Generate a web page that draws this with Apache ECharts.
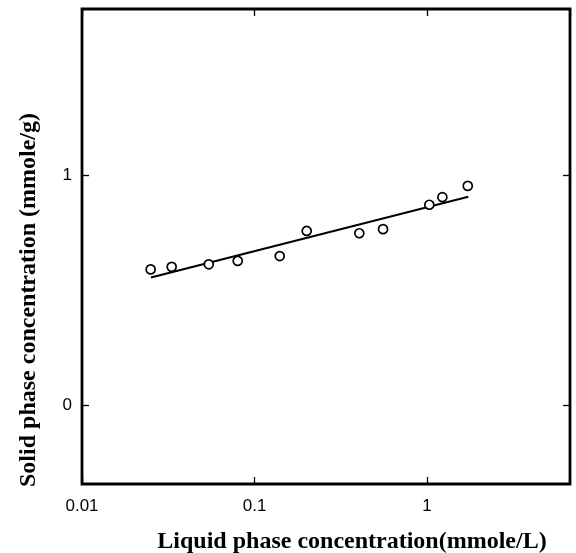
<!DOCTYPE html>
<html>
<head>
<meta charset="utf-8">
<script src="https://cdn.jsdelivr.net/npm/echarts@6/dist/echarts.min.js"></script>
<style>
html,body{margin:0;padding:0;background:#fff;}
#c{width:576px;height:553px;}
</style>
</head>
<body>
<div id="c"></div>
<script>
// Data
var liquidConc = [0.025, 0.0331, 0.0543, 0.0799, 0.140, 0.2007, 0.405, 0.556, 1.031, 1.227, 1.722];
var solidConc  = [0.590, 0.601, 0.612, 0.627, 0.648, 0.757, 0.747, 0.765, 0.871, 0.904, 0.953];
var fitX = [0.0251, 1.735];
var fitY = [0.555, 0.906];
var xTickLabels = [0.01, 0.1, 1];
var yTickLabels = [0, 1];
var xTitle = 'Liquid phase concentration(mmole/L)';
var yTitle = 'Solid phase concentration (mmole/g)';

var pts = liquidConc.map(function (x, i) { return [x, solidConc[i]]; });
var fit = fitX.map(function (x, i) { return [x, fitY[i]]; });

var chart = echarts.init(document.getElementById('c'), null, {renderer: 'canvas'});
var tickFontFamily = 'Liberation Sans';
var tickFontSize = 17;
var titleStyle = {fontFamily: 'Liberation Serif', fontWeight: 'bold', fontSize: 24, fill: '#000'};
var tickStyle = {show: true, inside: true, length: 7, lineStyle: {color: '#000', width: 1.3}};

function fmtX(v) {
  var r = +(+v).toPrecision(6);
  return xTickLabels.indexOf(r) >= 0 ? String(r) : '';
}

chart.setOption({
  animation: false,
  backgroundColor: '#fff',
  grid: {left: 82, right: 6, top: 9, bottom: 69, show: true, borderColor: '#000', borderWidth: 2.8, backgroundColor: 'transparent'},
  xAxis: [{
    type: 'log', logBase: 10, min: 0.01, max: 6.74, position: 'bottom',
    axisLine: {show: false, onZero: false},
    axisTick: tickStyle,
    minorTick: {show: false},
    splitLine: {show: false},
    axisLabel: {show: true, margin: 14, showMaxLabel: false, fontFamily: tickFontFamily, fontSize: tickFontSize, color: '#000', formatter: fmtX}
  }, {
    type: 'log', logBase: 10, min: 0.01, max: 6.74, position: 'top',
    axisLine: {show: false, onZero: false},
    axisTick: tickStyle,
    axisLabel: {show: false}, splitLine: {show: false}
  }],
  yAxis: [{
    type: 'value', min: -0.343, max: 1.722, position: 'left',
    axisLine: {show: false, onZero: false},
    axisTick: {show: true, inside: true, length: 7, customValues: yTickLabels, lineStyle: {color: '#000', width: 1.3}},
    splitLine: {show: false},
    axisLabel: {show: true, margin: 10, customValues: yTickLabels, fontFamily: tickFontFamily, fontSize: tickFontSize, color: '#000'}
  }, {
    type: 'value', min: -0.343, max: 1.722, position: 'right',
    axisLine: {show: false, onZero: false},
    axisTick: {show: true, inside: true, length: 7, customValues: yTickLabels, lineStyle: {color: '#000', width: 1.3}},
    axisLabel: {show: false}, splitLine: {show: false}
  }],
  graphic: [{
    type: 'text', x: 352, y: 542,
    style: Object.assign({text: xTitle, textAlign: 'center', textVerticalAlign: 'middle'}, titleStyle)
  }, {
    type: 'text', x: 29, y: 300, rotation: Math.PI / 2,
    style: Object.assign({text: yTitle, textAlign: 'center', textVerticalAlign: 'middle'}, titleStyle)
  }],
  series: [{
    type: 'line', data: fit, xAxisIndex: 0, yAxisIndex: 0,
    showSymbol: false, symbol: 'none',
    lineStyle: {color: '#000', width: 2}, silent: true, z: 2
  }, {
    type: 'scatter', data: pts, xAxisIndex: 0, yAxisIndex: 0,
    symbol: 'circle', symbolSize: 9,
    itemStyle: {color: '#fff', borderColor: '#000', borderWidth: 1.7, opacity: 1}, z: 3
  }]
});
</script>
</body>
</html>
